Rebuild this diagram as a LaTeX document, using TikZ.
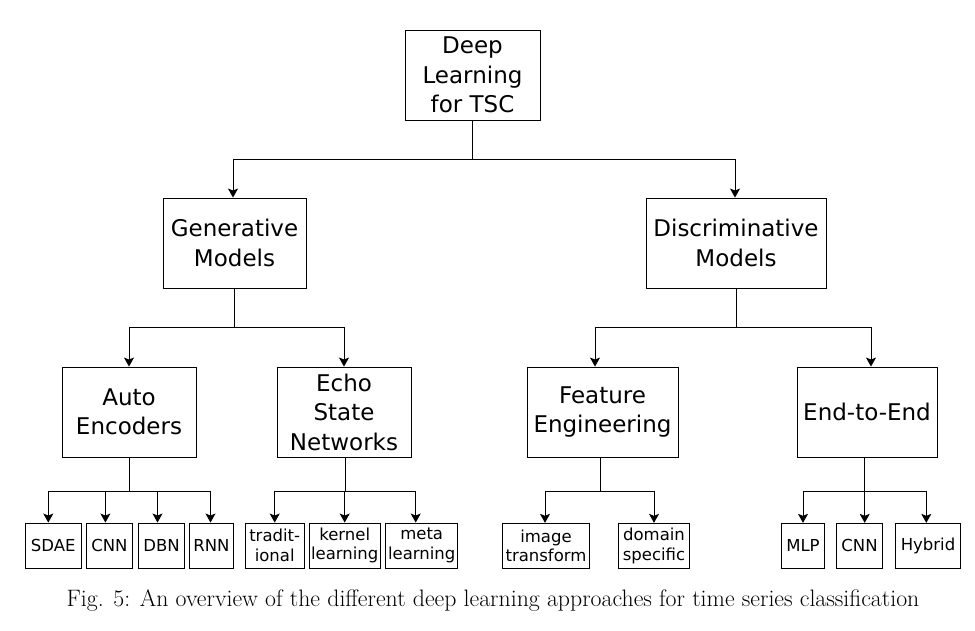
\documentclass[tikz,border=0pt]{standalone}
\usepackage{fontspec}
\newfontfamily\djv{DejaVu Sans}
\usetikzlibrary{arrows.meta}
\begin{document}
\begin{tikzpicture}[x=1pt,y=-1pt,
  big/.style={draw=black, line width=0.9pt, inner sep=0pt, align=center,
    font=\djv\fontsize{23}{29.5}\selectfont},
  small/.style={draw=black, line width=0.9pt, inner sep=0pt, align=center,
    font=\djv\fontsize{16.5}{19.5}\selectfont, minimum height=45},
  arr/.style={line width=0.9pt, -{Stealth[length=9pt,width=10pt,inset=2pt]}},
  ln/.style={line width=0.9pt}]
\useasboundingbox (0,0) rectangle (975,630);
% top
\node[big, minimum width=135, minimum height=90] (root) at (472.5,75) {Deep\\Learning\\for TSC};
\node[big, minimum width=143, minimum height=90] (gen) at (234.5,243) {Generative\\Models};
\node[big, minimum width=180, minimum height=90] (dis) at (736,243) {Discriminative\\Models};
\node[big, minimum width=134, minimum height=90] (ae) at (129,412) {Auto\\Encoders};
\node[big, minimum width=134, minimum height=90] (esn) at (344,412) {Echo\\State\\Networks};
\node[big, minimum width=151, minimum height=90] (fe) at (602.5,412) {Feature\\Engineering};
\node[big, minimum width=140, minimum height=90] (ee) at (867,412) {End-to-End};
% bottom
\node[small, minimum width=55.5] (sdae) at (53.3,545.5) {SDAE};
\node[small, minimum width=46.5] (cnna) at (109.4,545.5) {CNN};
\node[small, minimum width=45.5] (dbn) at (161.5,545.5) {DBN};
\node[small, minimum width=43.5] (rnn) at (211.5,545.5) {RNN};
\node[small, minimum width=59.5] (trad) at (274.7,545.5) {tradit-\\ional};
\node[small, minimum width=70.5] (kern) at (344.7,545.5) {kernel\\learning};
\node[small, minimum width=72] (meta) at (421.7,545.5) {meta\\learning};
\node[small, minimum width=86.5] (img) at (546,545.8) {image\\transform};
\node[small, minimum width=70.5] (dom) at (654,545.8) {domain\\specific};
\node[small, minimum width=42.5] (mlp) at (803,545.8) {MLP};
\node[small, minimum width=45.5] (cnnb) at (859.5,545.8) {CNN};
\node[small, minimum width=64.5] (hyb) at (928,545.8) {Hybrid};
% connectors
\draw[arr] (root.south) -- ++(0,39) -| ([xshift=-1.5pt]gen.north);
\draw[arr] (root.south) -- ++(0,39) -| ([xshift=-1pt]dis.north);
\draw[arr] (gen.south) -- ++(0,39) -| (ae.north);
\draw[arr] (gen.south) -- ++(0,39) -| (esn.north);
\draw[arr] (dis.south) -- ++(0,39) -| ([xshift=-7.5pt]fe.north);
\draw[arr] (dis.south) -- ++(0,39) -| ([xshift=4pt]ee.north);
\draw[arr] ([xshift=0.7pt]ae.south) -- ++(0,34) -| ([xshift=-5pt]sdae.north);
\draw[arr] ([xshift=0.7pt]ae.south) -- ++(0,34) -| ([xshift=-4pt]cnna.north);
\draw[arr] ([xshift=0.7pt]ae.south) -- ++(0,34) -| ([xshift=-4pt]dbn.north);
\draw[arr] ([xshift=0.7pt]ae.south) -- ++(0,34) -| ([xshift=-1pt]rnn.north);
\draw[arr] ([xshift=1pt]esn.south) -- ++(0,34) -| (trad.north);
\draw[arr] ([xshift=1pt]esn.south) -- ++(0,34) -| (kern.north);
\draw[arr] ([xshift=1pt]esn.south) -- ++(0,34) -| ([xshift=-6pt]meta.north);
\draw[arr] ([xshift=-1.8pt]fe.south) -- ++(0,34) -| ([xshift=-1pt]img.north);
\draw[arr] ([xshift=-1.8pt]fe.south) -- ++(0,34) -| (dom.north);
\draw[arr] ([xshift=-2.3pt]ee.south) -- ++(0,34) -| (mlp.north);
\draw[arr] ([xshift=-2.3pt]ee.south) -- ++(0,34) -| ([xshift=5.2pt]cnnb.north);
\draw[arr] ([xshift=-2.3pt]ee.south) -- ++(0,34) -| ([xshift=-1.7pt]hyb.north);
% caption
\node[inner sep=0pt, font=\fontsize{23.8}{28}\selectfont] (cap) at (493,601)
  {Fig. 5: An overview of the different deep learning approaches for time series classification};
\end{tikzpicture}
\end{document}
